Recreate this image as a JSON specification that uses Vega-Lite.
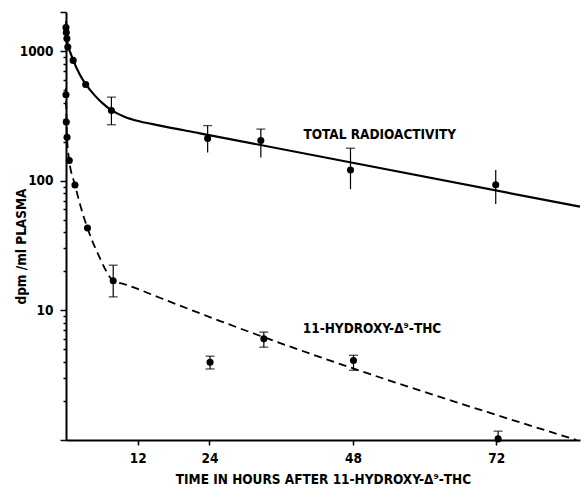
{
  "$schema": "https://vega.github.io/schema/vega-lite/v6.json",
  "width": 514,
  "height": 428,
  "autosize": {"type": "none"},
  "padding": {"left": 66, "top": 12, "right": 1, "bottom": 47},
  "background": "white",
  "config": {
    "view": {"stroke": null},
    "font": "DejaVu Sans Condensed, DejaVu Sans, sans-serif",
    "axis": {
      "grid": false,
      "domainColor": "black",
      "domainWidth": 2,
      "tickColor": "black",
      "tickWidth": 1.5,
      "labelColor": "black",
      "labelFont": "DejaVu Sans Condensed, DejaVu Sans, sans-serif",
      "labelFontWeight": "bold",
      "labelFontSize": 13.5,
      "titleColor": "black",
      "titleFont": "DejaVu Sans Condensed, DejaVu Sans, sans-serif",
      "titleFontWeight": "bold",
      "titleFontSize": 13.5
    }
  },
  "datasets": {
    "pts": [
      {"series": "total", "h": 0, "v": 1517},
      {"series": "total", "h": 0.05, "v": 1388},
      {"series": "total", "h": 0.15, "v": 1247},
      {"series": "total", "h": 0.3, "v": 1074},
      {"series": "total", "h": 1.2, "v": 847},
      {"series": "total", "h": 3.3, "v": 552},
      {"series": "total", "h": 7.6, "v": 348},
      {"series": "total", "h": 23.7, "v": 212},
      {"series": "total", "h": 32.6, "v": 204},
      {"series": "total", "h": 47.6, "v": 121},
      {"series": "total", "h": 71.9, "v": 93},
      {"series": "hydroxy", "h": 0, "v": 460},
      {"series": "hydroxy", "h": 0.05, "v": 283},
      {"series": "hydroxy", "h": 0.17, "v": 216},
      {"series": "hydroxy", "h": 0.55, "v": 143},
      {"series": "hydroxy", "h": 1.5, "v": 92.7},
      {"series": "hydroxy", "h": 3.6, "v": 43.2},
      {"series": "hydroxy", "h": 7.9, "v": 16.9},
      {"series": "hydroxy", "h": 24.1, "v": 3.98},
      {"series": "hydroxy", "h": 33.1, "v": 6.03},
      {"series": "hydroxy", "h": 48.1, "v": 4.1},
      {"series": "hydroxy", "h": 72.3, "v": 1.02}
    ],
    "errs": [
      {"series": "total", "h": 7.6, "lo": 270, "hi": 441, "capLo": true, "capHi": true},
      {"series": "total", "h": 23.7, "lo": 165, "hi": 266, "capLo": false, "capHi": true},
      {"series": "total", "h": 32.6, "lo": 151, "hi": 250, "capLo": false, "capHi": true},
      {"series": "total", "h": 47.6, "lo": 86, "hi": 178, "capLo": false, "capHi": true},
      {"series": "total", "h": 71.9, "lo": 66, "hi": 121, "capLo": false, "capHi": false},
      {"series": "hydroxy", "h": 7.9, "lo": 12.7, "hi": 22.3, "capLo": true, "capHi": true},
      {"series": "hydroxy", "h": 24.1, "lo": 3.53, "hi": 4.43, "capLo": true, "capHi": true},
      {"series": "hydroxy", "h": 33.1, "lo": 5.2, "hi": 6.8, "capLo": true, "capHi": true},
      {"series": "hydroxy", "h": 48.1, "lo": 3.45, "hi": 4.5, "capLo": true, "capHi": true},
      {"series": "hydroxy", "h": 72.3, "lo": 1.0, "hi": 1.17, "capLo": false, "capHi": true}
    ],
    "curveTotal": [
      {"h": 0, "v": 1700},
      {"h": 0.3, "v": 1100},
      {"h": 0.7, "v": 980},
      {"h": 1.2, "v": 850},
      {"h": 2.3, "v": 660},
      {"h": 3.3, "v": 555},
      {"h": 4.8, "v": 455},
      {"h": 6.0, "v": 400},
      {"h": 7.6, "v": 350},
      {"h": 9.87, "v": 310},
      {"h": 12.4, "v": 286},
      {"h": 15.7, "v": 266},
      {"h": 22.4, "v": 232},
      {"h": 86, "v": 63}
    ],
    "curveHydroxy": [
      {"h": 0, "v": 520},
      {"h": 0.17, "v": 215},
      {"h": 0.55, "v": 143},
      {"h": 1.5, "v": 93},
      {"h": 2.5, "v": 62},
      {"h": 3.6, "v": 43},
      {"h": 5.5, "v": 26.3},
      {"h": 7.9, "v": 17},
      {"h": 10.2, "v": 15.7},
      {"h": 15.7, "v": 12.5},
      {"h": 25.8, "v": 8.27},
      {"h": 85.4, "v": 1.0}
    ],
    "labels": [
      {"h": 52.5, "v": 227, "text": "TOTAL RADIOACTIVITY"},
      {"h": 51.2, "v": 7.16, "text": "11-HYDROXY-Δ⁹-THC"}
    ]
  },
  "layer": [
    {
      "data": {"name": "curveTotal"},
      "mark": {"type": "line", "color": "black", "strokeWidth": 2.2, "interpolate": "monotone"},
      "encoding": {
        "x": {
          "field": "h", "type": "quantitative",
          "scale": {"domain": [0, 86], "nice": false, "zero": false},
          "axis": {
            "values": [12, 24, 48, 72],
            "tickSize": 5,
            "labelPadding": 6,
            "title": "TIME IN HOURS AFTER 11-HYDROXY-Δ⁹-THC",
            "titleX": 257,
            "titleY": 43,
            "titleAlign": "center",
            "titleBaseline": "alphabetic"
          }
        },
        "y": {
          "field": "v", "type": "quantitative",
          "scale": {"type": "log", "domain": [1, 2000], "nice": false},
          "axis": {
            "values": [1, 2, 3, 4, 5, 6, 7, 8, 9, 10, 20, 30, 40, 50, 60, 70, 80, 90, 100, 200, 300, 400, 500, 600, 700, 800, 900, 1000, 2000],
            "format": "d",
            "labelExpr": "(datum.value == 10 || datum.value == 100 || datum.value == 1000) ? datum.label : ''",
            "tickSize": {"condition": {"test": "datum.value == 1 || datum.value == 10 || datum.value == 100 || datum.value == 1000 || datum.value == 2000", "value": 6}, "value": 3},
            "labelPadding": 7,
            "title": "dpm /ml PLASMA",
            "titleAngle": -90,
            "titleX": -41,
            "titleY": 234,
            "titleAlign": "center",
            "titleBaseline": "alphabetic"
          }
        }
      }
    },
    {
      "data": {"name": "curveHydroxy"},
      "mark": {"type": "line", "color": "black", "strokeWidth": 1.8, "strokeDash": [8, 5], "interpolate": "monotone"},
      "encoding": {
        "x": {"field": "h", "type": "quantitative"},
        "y": {"field": "v", "type": "quantitative"}
      }
    },
    {
      "data": {"name": "errs"},
      "mark": {"type": "rule", "color": "black", "strokeWidth": 1.2},
      "encoding": {
        "x": {"field": "h", "type": "quantitative"},
        "y": {"field": "lo", "type": "quantitative"},
        "y2": {"field": "hi"}
      }
    },
    {
      "data": {"name": "errs"},
      "transform": [{"filter": "datum.capHi"}],
      "mark": {"type": "tick", "orient": "horizontal", "color": "black", "size": 9, "thickness": 1.3},
      "encoding": {
        "x": {"field": "h", "type": "quantitative"},
        "y": {"field": "hi", "type": "quantitative"}
      }
    },
    {
      "data": {"name": "errs"},
      "transform": [{"filter": "datum.capLo"}],
      "mark": {"type": "tick", "orient": "horizontal", "color": "black", "size": 9, "thickness": 1.3},
      "encoding": {
        "x": {"field": "h", "type": "quantitative"},
        "y": {"field": "lo", "type": "quantitative"}
      }
    },
    {
      "data": {"name": "pts"},
      "mark": {"type": "circle", "color": "black", "opacity": 1, "size": 50},
      "encoding": {
        "x": {"field": "h", "type": "quantitative"},
        "y": {"field": "v", "type": "quantitative"}
      }
    },
    {
      "data": {"name": "labels"},
      "mark": {"type": "text", "color": "black", "fontSize": 13.5, "fontWeight": "bold", "font": "DejaVu Sans Condensed, DejaVu Sans, sans-serif", "align": "center", "baseline": "middle"},
      "encoding": {
        "x": {"field": "h", "type": "quantitative"},
        "y": {"field": "v", "type": "quantitative"},
        "text": {"field": "text"}
      }
    }
  ]
}
